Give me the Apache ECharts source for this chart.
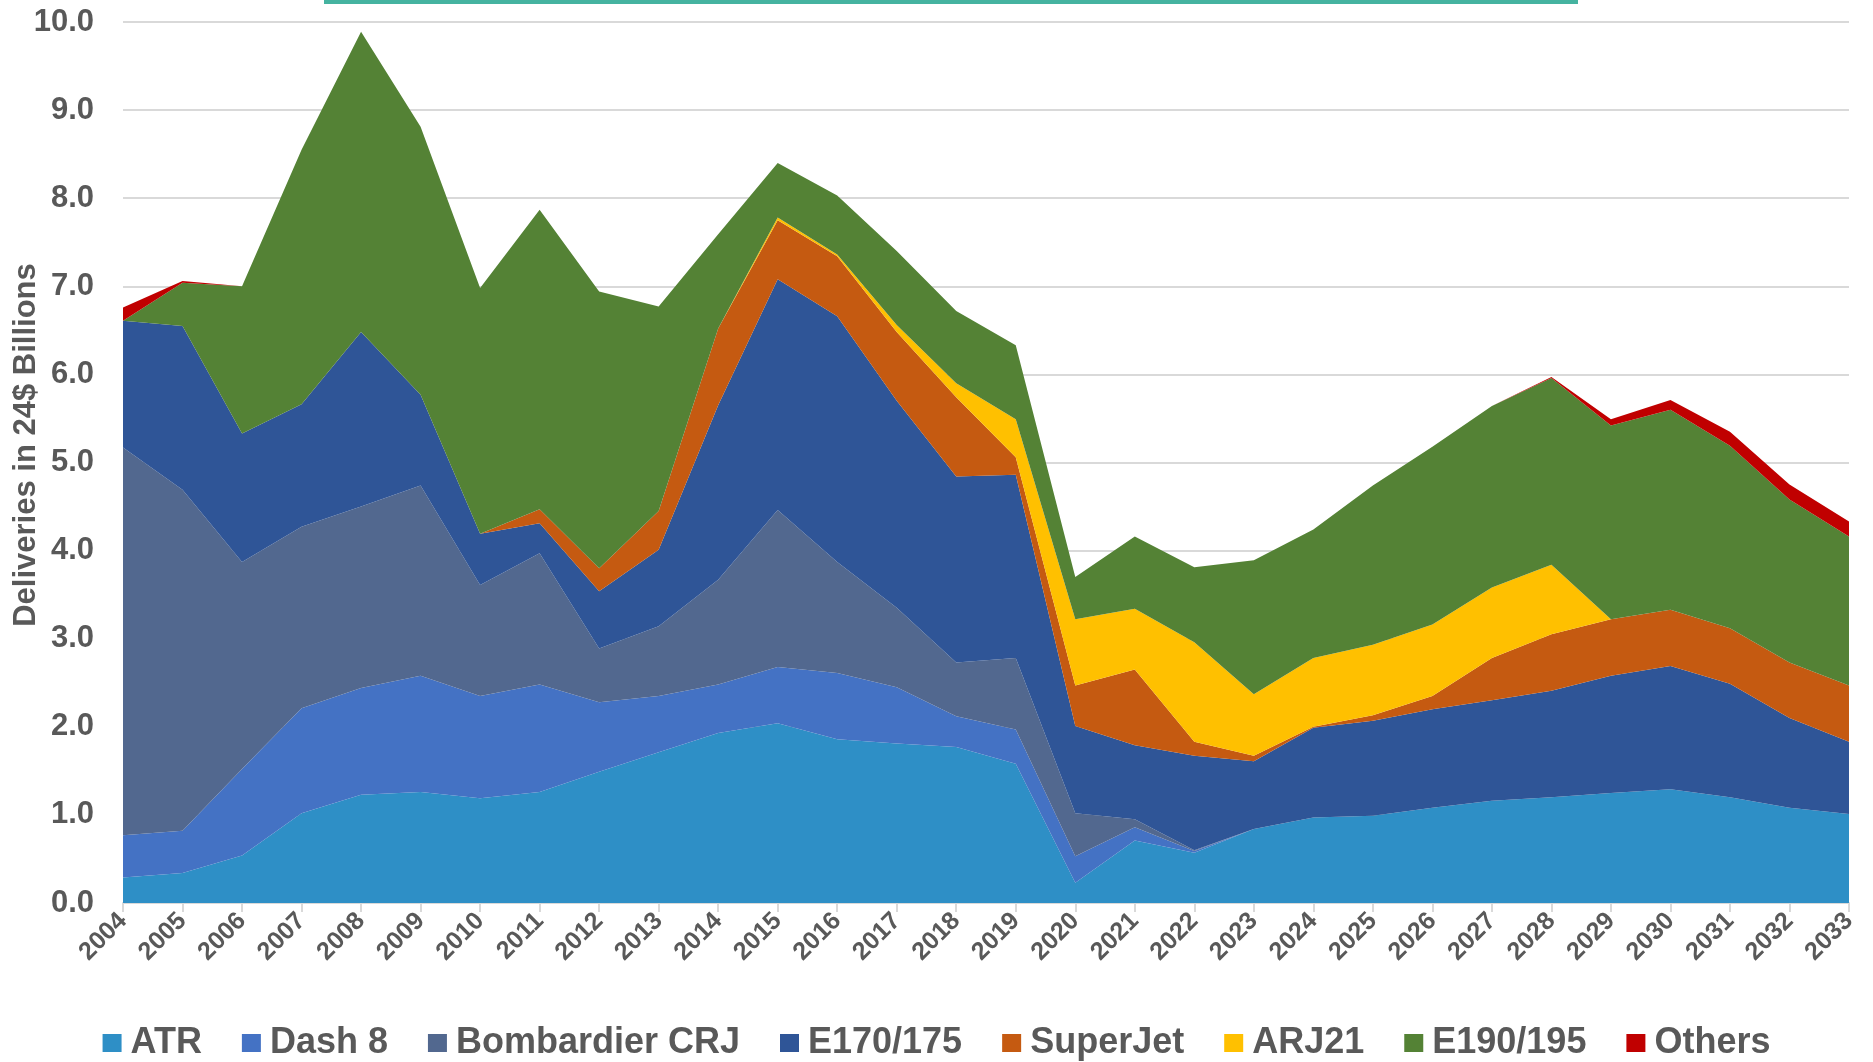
<!DOCTYPE html>
<html>
<head>
<meta charset="utf-8">
<script src="https://cdn.jsdelivr.net/npm/echarts@6/dist/echarts.min.js"></script>
<style>
html,body{margin:0;padding:0;background:#fff;}
#chart{width:1873px;height:1062px;}
</style>
</head>
<body>
<div id="chart"></div>
<script>
const years = ['2004','2005','2006','2007','2008','2009','2010','2011','2012','2013','2014','2015','2016','2017','2018','2019','2020','2021','2022','2023','2024','2025','2026','2027','2028','2029','2030','2031','2032','2033'];
const yTicks = [0,1,2,3,4,5,6,7,8,9,10];

const atr      = [0.29,0.34,0.54,1.02,1.23,1.26,1.19,1.26,1.49,1.71,1.93,2.04,1.86,1.81,1.77,1.58,0.23,0.71,0.57,0.84,0.97,0.99,1.08,1.16,1.20,1.25,1.29,1.20,1.08,1.01];
const dash8    = [0.48,0.48,0.98,1.19,1.21,1.32,1.16,1.22,0.79,0.64,0.55,0.64,0.75,0.64,0.35,0.39,0.30,0.15,0.02,0,0,0,0,0,0,0,0,0,0,0];
const crj      = [4.40,3.87,2.35,2.06,2.06,2.16,1.26,1.49,0.61,0.79,1.19,1.78,1.26,0.90,0.61,0.81,0.49,0.09,0.01,0,0,0,0,0,0,0,0,0,0,0];
const e170     = [1.44,1.86,1.46,1.39,1.98,1.03,0.58,0.34,0.65,0.87,1.98,2.62,2.79,2.35,2.11,2.08,0.99,0.84,1.07,0.77,1.02,1.08,1.12,1.14,1.21,1.33,1.40,1.29,1.02,0.82];
const superjet = [0,0,0,0,0,0,0,0.16,0.26,0.44,0.87,0.67,0.68,0.78,0.90,0.20,0.46,0.86,0.16,0.06,0.01,0.06,0.15,0.48,0.64,0.64,0.64,0.63,0.63,0.64];
const arj21    = [0,0,0,0,0,0,0,0,0,0,0,0.03,0.02,0.08,0.16,0.43,0.75,0.69,1.13,0.70,0.78,0.80,0.81,0.80,0.79,0,0,0,0,0];
const e190     = [0,0.49,1.67,2.89,3.41,3.04,2.79,3.40,3.14,2.32,1.07,0.62,0.67,0.84,0.82,0.84,0.48,0.82,0.85,1.52,1.46,1.81,2.02,2.06,2.12,2.20,2.27,2.07,1.85,1.69];
const others   = [0.15,0.02,0,0,0,0,0,0,0,0,0,0,0,0,0,0,0,0,0,0,0,0,0,0,0.01,0.07,0.11,0.16,0.17,0.17];

const seriesNames = ['ATR','Dash 8','Bombardier CRJ','E170/175','SuperJet','ARJ21','E190/195','Others'];
const seriesData = [atr,dash8,crj,e170,superjet,arj21,e190,others];
const colors = ['#2e8fc6','#4472c4','#52688f','#2f5597','#c55a11','#ffc000','#548235','#c00000'];
const yAxisTitle = 'Deliveries in 24$ Billions';

const chart = echarts.init(document.getElementById('chart'));
const font = '"Liberation Sans", Arial, sans-serif';
chart.setOption({
  animation: false,
  color: colors,
  textStyle: {fontFamily: font},
  graphic: [{
    type: 'rect', left: 324, top: 0,
    shape: {width: 1254, height: 4},
    style: {fill: '#45b3a0'}
  }, {
    type: 'text', x: 26, y: 445, rotation: Math.PI / 2,
    style: {
      text: yAxisTitle, fill: '#595959',
      font: 'bold 31px "Liberation Sans", Arial, sans-serif',
      align: 'center', verticalAlign: 'middle'
    }
  }],
  grid: {left: 123, right: 24, top: 22, bottom: 159, containLabel: false},
  legend: {
    top: 1020, left: 'center',
    itemWidth: 19, itemHeight: 18, itemGap: 40,
    icon: 'rect',
    textStyle: {fontSize: 36, fontWeight: 'bold', color: '#595959', fontFamily: font, padding: [0,0,0,4]},
    data: seriesNames
  },
  xAxis: {
    type: 'category', data: years, boundaryGap: false,
    axisLine: {lineStyle: {color: '#d9d9d9', width: 2}},
    axisTick: {show: true, alignWithLabel: true, length: 9, lineStyle: {color: '#d9d9d9', width: 2}},
    axisLabel: {rotate: 45, fontSize: 25, fontWeight: 'bold', color: '#595959', margin: 14, interval: 0, fontFamily: font},
    splitLine: {show: false}
  },
  yAxis: {
    type: 'value', min: yTicks[0], max: yTicks[yTicks.length-1], interval: 1,
    axisLine: {show: false}, axisTick: {show: false},
    axisLabel: {fontSize: 31, fontWeight: 'bold', color: '#595959', margin: 29, formatter: v => v.toFixed(1), fontFamily: font},
    splitLine: {lineStyle: {color: '#d9d9d9', width: 2}}
  },
  series: seriesNames.map((n, i) => ({
    name: n, type: 'line', stack: 'total', data: seriesData[i],
    showSymbol: false, symbol: 'none',
    lineStyle: {width: 0},
    areaStyle: {color: colors[i], opacity: 1},
    itemStyle: {color: colors[i]}
  }))
});
</script>
</body>
</html>
